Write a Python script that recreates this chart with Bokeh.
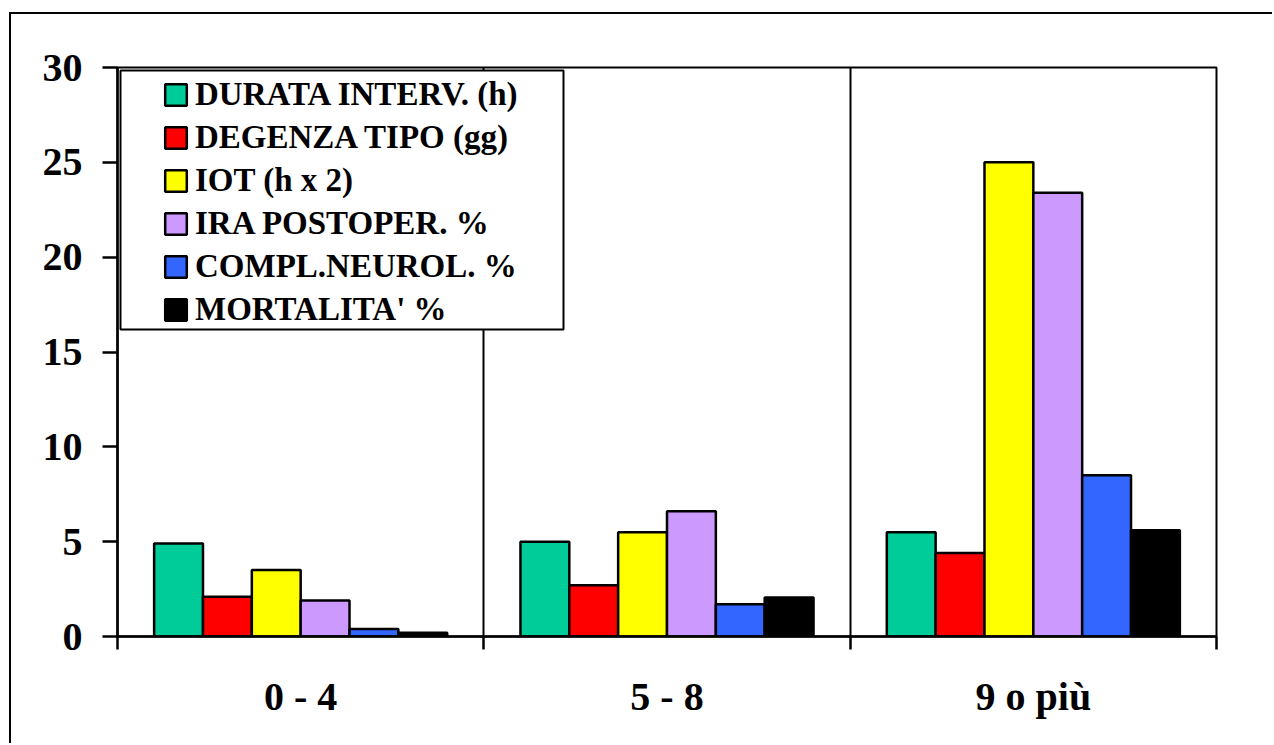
from bokeh.plotting import figure
from bokeh.models import (Range1d, FixedTicker, BoxAnnotation, Legend, LegendItem)
from bokeh.embed import file_html
from bokeh.resources import INLINE

# Classi di rischio (asse x) e indicatori (serie)
categories = ["0 - 4", "5 - 8", "9 o più"]
series_names = ["DURATA INTERV. (h)", "DEGENZA TIPO (gg)", "IOT (h x 2)",
                "IRA POSTOPER. %", "COMPL.NEUROL. %", "MORTALITA' %"]
series_colors = ["#00CC99", "#FF0000", "#FFFF00", "#CC99FF", "#3366FF", "#000000"]

durata = [4.9, 5.0, 5.5]
degenza = [2.1, 2.7, 4.4]
iot = [3.5, 5.5, 25.0]
ira = [1.9, 6.6, 23.4]
neuro = [0.4, 1.7, 8.5]
mortalita = [0.2, 2.05, 5.6]
series_values = [durata, degenza, iot, ira, neuro, mortalita]

y_ticks = [0, 5, 10, 15, 20, 25, 30]

FONT = "Liberation Serif"

p = figure(width=1263, height=731, output_backend="svg", toolbar_location=None,
           x_range=Range1d(0, len(categories)), y_range=Range1d(0, 30),
           min_border_left=106, min_border_right=58, min_border_top=53,
           min_border_bottom=109, background_fill_color="white",
           border_fill_color="white")

# outer frame around the whole picture (open towards right and bottom)
p.styles = {"border-left": "2px solid black", "border-top": "2px solid black",
            "margin-left": "9px", "margin-top": "12px"}

n = len(series_names)
group_span = 0.8
bar_w = group_span / n
renderers = []
for i, (name, color, vals) in enumerate(zip(series_names, series_colors, series_values)):
    xs = [g + (1 - group_span) / 2 + (i + 0.5) * bar_w for g in range(len(categories))]
    r = p.vbar(x=xs, top=vals, width=bar_w, bottom=0, fill_color=color,
               line_color="black", line_width=2.5)
    renderers.append((name, r))

# plot frame
p.outline_line_color = "black"
p.outline_line_width = 2
p.outline_line_alpha = 1

# vertical separators between the groups
p.ygrid.visible = False
p.xgrid.ticker = FixedTicker(ticks=[1, 2])
p.xgrid.grid_line_color = "black"
p.xgrid.grid_line_width = 2
p.xgrid.grid_line_alpha = 1

# y axis
ya = p.yaxis[0]
ya.ticker = FixedTicker(ticks=y_ticks)
ya.axis_line_width = 2.5
ya.major_tick_line_width = 2.5
ya.major_tick_out = 15
ya.major_tick_in = 0
ya.minor_tick_line_color = None
ya.major_label_standoff = 20
ya.major_label_text_font = FONT
ya.major_label_text_font_style = "bold"
ya.major_label_text_font_size = "40px"
ya.major_label_text_color = "black"

# x axis: labels centred on groups, tick marks on group boundaries
xa = p.xaxis[0]
centers = [g + 0.5 for g in range(len(categories))]
xa.ticker = FixedTicker(ticks=centers, minor_ticks=list(range(len(categories) + 1)))
xa.major_label_overrides = {c: lab for c, lab in zip(centers, categories)}
xa.axis_line_width = 2.5
xa.major_tick_line_color = None
xa.major_tick_out = 0
xa.major_tick_in = 0
xa.minor_tick_line_width = 2.5
xa.minor_tick_out = 13
xa.minor_tick_in = 0
xa.major_label_standoff = 24
xa.major_label_text_font = FONT
xa.major_label_text_font_style = "bold"
xa.major_label_text_font_size = "40px"
xa.major_label_text_color = "black"

# legend frame
p.add_layout(BoxAnnotation(left=3, right=446, top=566, bottom=307,
                           left_units="screen", right_units="screen",
                           top_units="screen", bottom_units="screen",
                           fill_color="white", fill_alpha=1,
                           line_color="black", line_alpha=1, line_width=2))

legend = Legend(items=[LegendItem(label=nm, renderers=[r]) for nm, r in renderers],
                location=(45, 308), padding=10, spacing=6,
                glyph_width=27, glyph_height=27, label_height=36,
                label_standoff=6,
                label_text_font=FONT, label_text_font_style="bold",
                label_text_font_size="33px", label_text_color="black",
                border_line_color=None, background_fill_alpha=0)
p.add_layout(legend)

open("out.html", "w").write(file_html(p, INLINE))
